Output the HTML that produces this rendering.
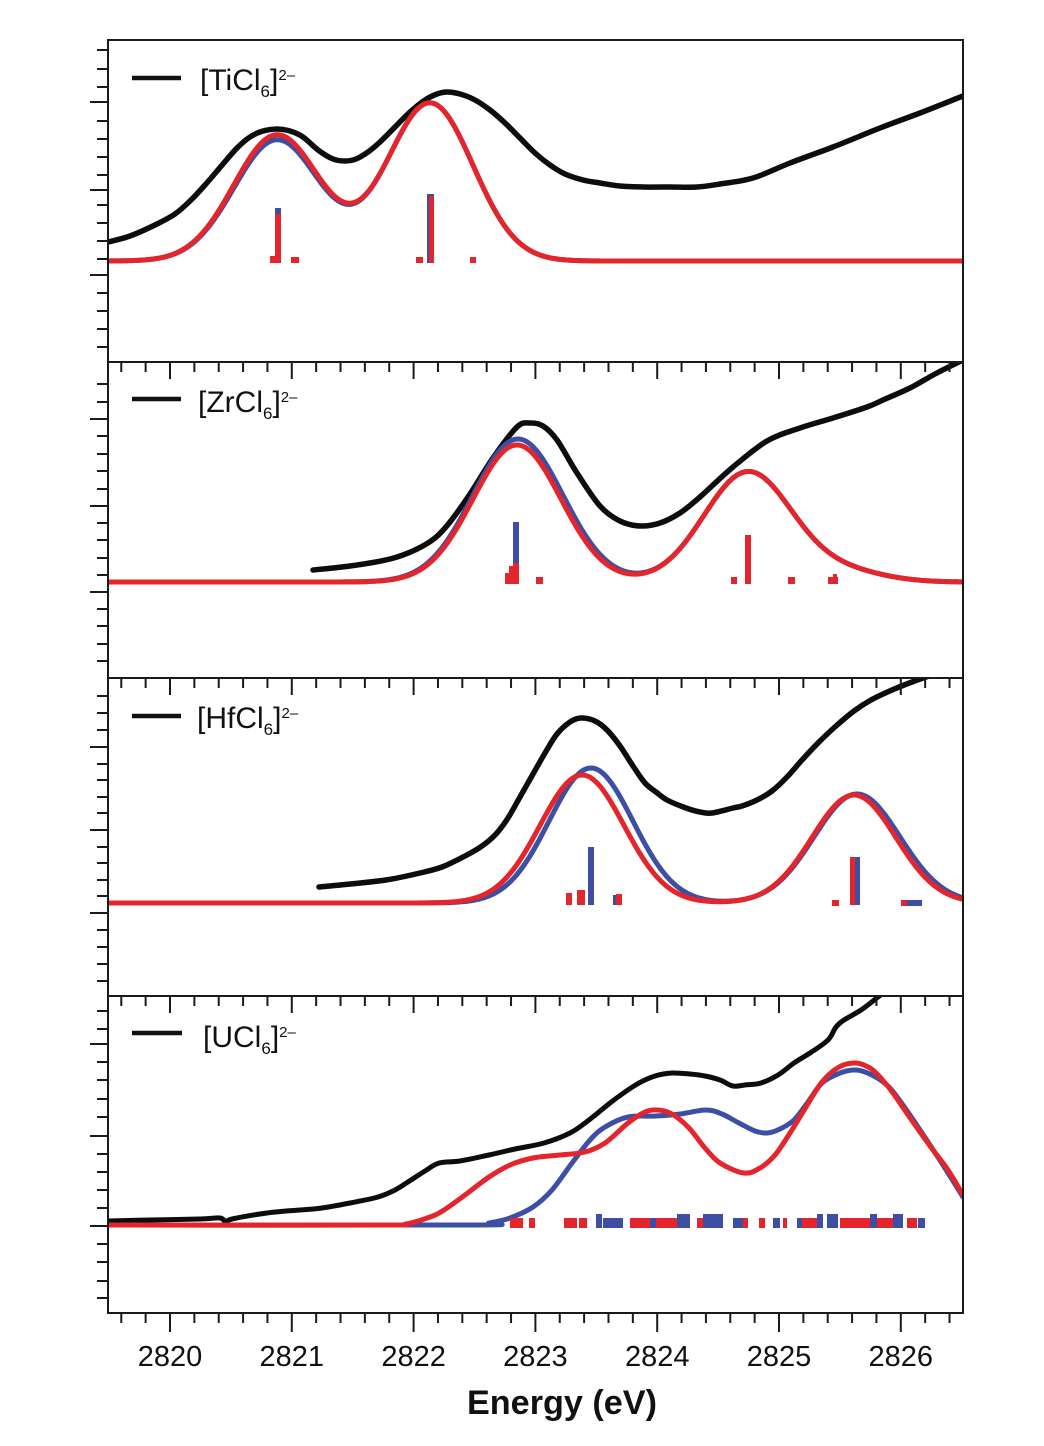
<!DOCTYPE html>
<html><head><meta charset="utf-8">
<style>html,body{margin:0;padding:0;background:#fff;}svg{display:block}</style>
</head>
<body>
<svg id="s" width="1044" height="1446" viewBox="0 0 1044 1446" xmlns="http://www.w3.org/2000/svg">
<defs>
<clipPath id="c1"><rect x="108" y="40" width="855" height="322"/></clipPath>
<clipPath id="c2"><rect x="108" y="362" width="855" height="316"/></clipPath>
<clipPath id="c3"><rect x="108" y="678" width="855" height="318"/></clipPath>
<clipPath id="c4"><rect x="108" y="996" width="855" height="317"/></clipPath>
</defs>
<rect width="1044" height="1446" fill="#fff"/>
<g id="curves"></g>
<g id="ticks" stroke="#1a1a1a" stroke-width="2"></g>
<g fill="none" stroke="#1a1a1a" stroke-width="2">
<line x1="108" y1="40" x2="963" y2="40"/>
<line x1="107" y1="362" x2="963" y2="362"/>
<line x1="107" y1="678" x2="963" y2="678"/>
<line x1="107" y1="996" x2="963" y2="996"/>
<line x1="107" y1="1313" x2="963" y2="1313"/>
<line x1="108" y1="39" x2="108" y2="1314"/>
<line x1="963" y1="39" x2="963" y2="1314"/>
</g>
<g stroke="#111" stroke-width="4.5">
<line x1="132" y1="78" x2="181" y2="78"/>
<line x1="132" y1="399" x2="181" y2="399"/>
<line x1="132" y1="716" x2="181" y2="716"/>
<line x1="132" y1="1033" x2="182" y2="1033"/>
</g>
<g font-family="Liberation Sans, Arial, sans-serif" fill="#111">
<text x="200" y="90" font-size="30">[TiCl<tspan font-size="17" y="97">6</tspan><tspan y="90">]</tspan><tspan font-size="15" y="80">2–</tspan></text>
<text x="198" y="412" font-size="30">[ZrCl<tspan font-size="17" y="419">6</tspan><tspan y="412">]</tspan><tspan font-size="15" y="402">2–</tspan></text>
<text x="197" y="728" font-size="30">[HfCl<tspan font-size="17" y="735">6</tspan><tspan y="728">]</tspan><tspan font-size="15" y="718">2–</tspan></text>
<text x="203" y="1047" font-size="30">[UCl<tspan font-size="17" y="1054">6</tspan><tspan y="1047">]</tspan><tspan font-size="15" y="1037">2–</tspan></text>
<g font-size="29" text-anchor="middle">
<text x="170" y="1366">2820</text>
<text x="291.8" y="1366">2821</text>
<text x="413.6" y="1366">2822</text>
<text x="535.4" y="1366">2823</text>
<text x="657.2" y="1366">2824</text>
<text x="779" y="1366">2825</text>
<text x="900.8" y="1366">2826</text>
</g>
<text x="562" y="1414" font-size="34" font-weight="bold" text-anchor="middle" textLength="190" lengthAdjust="spacingAndGlyphs">Energy (eV)</text>
</g>
</svg>
<script>
(function(){
var NS="http://www.w3.org/2000/svg";
var curves=document.getElementById('curves');
var ticks=document.getElementById('ticks');
var RED="#e4252b", BLUE="#3d4fa5", BLACK="#0d0d0d";
function el(tag,attrs,parent){var e=document.createElementNS(NS,tag);for(var k in attrs)e.setAttribute(k,attrs[k]);(parent||curves).appendChild(e);return e;}
function gauss(list,base){var d='';for(var x=108;x<=963;x+=1.5){var y=base;for(var i=0;i<list.length;i++){var g=list[i];y-=g[1]*Math.exp(-((x-g[0])*(x-g[0]))/(2*g[2]*g[2]));}d+=(d?' L':'M')+x.toFixed(1)+','+y.toFixed(2);}return d;}
function cr(p){var d='M'+p[0][0]+','+p[0][1];for(var i=0;i<p.length-1;i++){var p0=p[i-1]||p[i],p1=p[i],p2=p[i+1],p3=p[i+2]||p2;var c1=[p1[0]+(p2[0]-p0[0])/6,p1[1]+(p2[1]-p0[1])/6];var c2=[p2[0]-(p3[0]-p1[0])/6,p2[1]-(p3[1]-p1[1])/6];d+=' C'+c1[0].toFixed(1)+','+c1[1].toFixed(1)+' '+c2[0].toFixed(1)+','+c2[1].toFixed(1)+' '+p2[0]+','+p2[1];}return d;}
function line(g,d,c,w){el('path',{d:d,fill:'none',stroke:c,'stroke-width':w||5,'stroke-linejoin':'round','stroke-linecap':'round'},g);}
function rects(g,list){for(var i=0;i<list.length;i++){var r=list[i];el('rect',{x:r[0],y:r[1],width:r[2],height:r[3],fill:r[4]=='b'?BLUE:RED},g);}}

// Panel 1
var g1=el('g',{'clip-path':'url(#c1)'});
line(g1,cr([[108,242],[130,236],[157,224],[175,214],[190,201],[205,185],[223,164],[237,148],[250,137],[263,131],[277,129],[290,131],[303,137],[318,150],[333,159],[345,161],[356,159],[368,152],[380,142],[395,127],[410,112],[425,100],[437,94],[447,92],[460,94],[475,100],[490,110],[505,123],[520,138],[535,153],[550,165],[565,174],[583,180],[600,183],[620,186],[643,187],[670,187],[697,187],[720,184],[753,178],[790,163],[833,147],[880,128],[920,113],[963,96]]),BLACK,5.5);
line(g1,gauss([[277,121,43],[430,158,43]],261),BLUE,5);
line(g1,gauss([[277,126,43],[430,158,43]],261),RED,5);
rects(g1,[[275,208,6,55,'b'],[427,194,7,69,'b'],[275,214,6,49,'r'],[270,256,11,7,'r'],[291,257,8,6,'r'],[429,196,5,67,'r'],[416,257,7,6,'r'],[470,257,6,6,'r']]);

// Panel 2
var g2=el('g',{'clip-path':'url(#c2)'});
line(g2,cr([[313,570],[350,566],[390,559],[415,550],[435,538],[450,522],[470,494],[493,458],[517,427],[530,423],[543,426],[557,440],[577,473],[600,506],[620,521],[640,526],[660,523],[680,513],[700,497],[733,467],[767,441],[800,428],[833,418],[867,407],[883,400],[910,388],[935,374],[963,360]]),BLACK,5.5);
line(g2,gauss([[518,143,45],[748,110,44],[845,10,40]],582),BLUE,5);
line(g2,gauss([[517,137,44],[748,110,44],[845,10,40]],582),RED,5);
rects(g2,[[513,522,6,62,'b'],[513,563,6,21,'r'],[505,573,8,11,'r'],[509,566,4,18,'r'],[536,577,7,7,'r'],[745,535,6,49,'r'],[731,577,6,7,'r'],[788,577,7,7,'r'],[828,577,10,7,'r'],[833,574,4,10,'r']]);

// Panel 3
var g3=el('g',{'clip-path':'url(#c3)'});
line(g3,cr([[319,887],[350,884],[386,880],[420,873],[442,867],[465,856],[482,846],[496,834],[508,818],[520,797],[533,774],[545,753],[557,734],[570,722],[581,718],[595,721],[607,730],[620,746],[633,766],[645,783],[656,792],[667,800],[686,808],[700,812],[712,813],[733,808],[742,806],[757,800],[772,791],[787,777],[802,760],[818,743],[836,726],[854,711],[871,700],[892,690],[912,682],[935,674]]),BLACK,5.5);
line(g3,gauss([[591,135,42],[857,109,43]],903),BLUE,5);
line(g3,gauss([[582,128,42],[854,108,42]],903),RED,5);
rects(g3,[[588,847,6,58,'b'],[566,893,6,12,'r'],[577,890,8,15,'r'],[613,895,4,10,'b'],[616,894,6,11,'r'],[850,857,5,48,'r'],[855,857,5,48,'b'],[832,900,7,6,'r'],[901,900,6,6,'r'],[907,900,15,6,'b']]);

// Panel 4
var g4=el('g',{'clip-path':'url(#c4)'});
line(g4,cr([[108,1221],[150,1220],[200,1219],[220,1218],[226,1222],[232,1219],[267,1213],[300,1210],[322,1208],[350,1203],[378,1197],[395,1190],[411,1180],[425,1171],[439,1163],[460,1161],[489,1155],[515,1149],[544,1143],[570,1133],[589,1120],[610,1103],[625,1092],[639,1083],[655,1076],[672,1073],[690,1074],[705,1076],[720,1080],[733,1086],[745,1085],[761,1083],[778,1075],[794,1063],[810,1053],[828,1040],[836,1027],[844,1020],[861,1010],[878,997],[890,988]]),BLACK,5);
line(g4,cr([[108,1225],[470,1225],[489,1223],[510,1218],[533,1207],[552,1190],[572,1163],[590,1140],[605,1127],[628,1117],[656,1116],[680,1114],[706,1110],[722,1114],[739,1123],[755,1131],[767,1133],[780,1129],[794,1120],[808,1102],[822,1083],[840,1073],[856,1070],[872,1075],[889,1087],[905,1108],[922,1133],[943,1165],[963,1197]]),BLUE,5);
line(g4,cr([[108,1225],[380,1225],[406,1224],[430,1217],[444,1210],[465,1195],[489,1177],[510,1165],[533,1158],[560,1155],[585,1152],[605,1143],[628,1123],[645,1112],[658,1110],[672,1114],[689,1128],[705,1148],[720,1163],[744,1173],[760,1168],[775,1155],[790,1133],[806,1107],[822,1082],[839,1067],[856,1063],[870,1068],[880,1077],[893,1093],[906,1112],[920,1132],[933,1150],[948,1170],[963,1195]]),RED,5);
var bars=[[510,13,'r',0],[529,6,'r',0],[564,13,'r',0],[579,8,'r',0],[596,6,'b',1],[603,20,'b',0],[630,47,'r',0],[650,6,'b',0],[677,13,'b',1],[697,6,'r',0],[703,20,'b',1],[733,10,'b',0],[743,5,'r',0],[759,6,'r',0],[773,7,'b',0],[783,4,'r',0],[797,5,'b',0],[802,15,'r',0],[817,6,'b',1],[827,11,'b',1],[840,30,'r',0],[870,7,'b',1],[877,26,'r',0],[893,10,'b',1],[907,10,'r',0],[918,7,'b',0]];
var rl=[];for(var i=0;i<bars.length;i++){var b=bars[i];var top=b[3]?1214:1218;rl.push([b[0],top,b[1],1228-top,b[2]]);}
rects(g4,rl);

// ticks
function tl(x1,y1,x2,y2){el('line',{x1:x1,y1:y1,x2:x2,y2:y2},ticks);}
var axes=[362,678,996];
for(var k=0;k<=34;k++){var E=2819.6+0.2*k;var x=170+(E-2820)*121.8;var major=Math.abs(E-Math.round(E))<0.01;var L=major?17:10;
 for(var j=0;j<axes.length;j++)tl(x,axes[j],x,axes[j]+L);
 tl(x,1313,x,1313+(major?19:10));}
var left=[[[102,190,275],[50,69,87,121,139,157,175,205,223,241,259,293,311,329,347]],
[[419,506,592],[384,402,436,454,471,489,523,540,558,575,609,626,644,661]],
[[747,830,913],[696,713,730,764,780,797,813,847,863,880,896,930,947,964,981]],
[[1044,1136,1226],[1011,1029,1062,1080,1099,1117,1154,1172,1190,1208,1244,1262,1281,1298]]];
for(var p=0;p<left.length;p++){var M=left[p][0],m=left[p][1];for(var i=0;i<M.length;i++)tl(90,M[i],108,M[i]);for(var i=0;i<m.length;i++)tl(97,m[i],108,m[i]);}
})();
</script>
</body>
</html>
